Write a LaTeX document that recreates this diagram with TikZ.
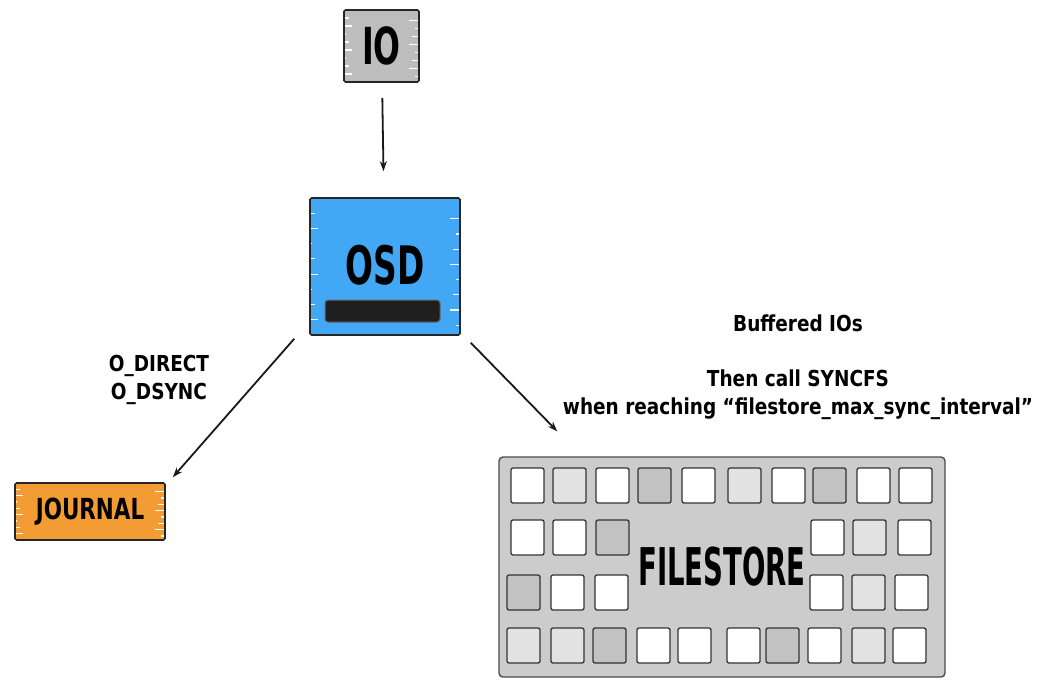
\documentclass[tikz,border=0pt]{standalone}
\usepackage{fontspec}
\usepackage{tikz}
\usetikzlibrary{arrows.meta,calc}
\newfontfamily\handfont[FakeStretch=0.62]{DejaVu Sans}
\newfontfamily\narrowfont[FakeStretch=0.53]{DejaVu Sans}
\newfontfamily\widefont[FakeStretch=0.74]{DejaVu Sans}
\newfontfamily\notefont[FakeStretch=0.84]{DejaVu Sans}
\definecolor{iogray}{HTML}{BDBDBD}
\definecolor{osdblue}{HTML}{42A8F5}
\definecolor{jrnorange}{HTML}{F39C33}
\definecolor{fsgray}{HTML}{CCCCCC}
\definecolor{W}{HTML}{FFFFFF}
\definecolor{L}{HTML}{E2E2E2}
\definecolor{M}{HTML}{C2C2C2}
\begin{document}
\begin{tikzpicture}[x=1pt,y=1pt]
				\tikzstyle{every node}+=[inner sep=0pt]
				\tikzstyle{strokes}=[path picture={
					\foreach \k in {1,...,8} {
						\draw [white,line width=1.2pt] ($(path picture bounding box.north west)!\k/9!(path picture bounding box.south west)$) -- ++({2+mod(\k,3)*3},0);
						\draw [white,line width=1.2pt] ($(path picture bounding box.north east)!\k/9+0.04!(path picture bounding box.south east)$) -- ++({-4-mod(\k+1,3)*3},0);
					}}]
				\tikzstyle{box}=[draw=black!85,line width=1.6pt,rounded corners=1.5pt,strokes]
				\tikzstyle{cell}=[draw=black!80,line width=1.3pt,rounded corners=2pt,minimum width=33pt,minimum height=35pt]
				\tikzstyle{note}=[font=\notefont\bfseries\fontsize{22}{27.5}\selectfont,align=center]
				\tikzstyle{flow}=[black!90,line width=1.8pt,-{Stealth[length=10pt,width=7pt]}]
				\useasboundingbox (0,0) rectangle (1048,-681);
				\node [box,fill=iogray,minimum width=75pt,minimum height=72pt,font=\handfont\bfseries\fontsize{51}{51}\selectfont] (io) at (381.5,-46) {IO};
				\node [box,fill=osdblue,minimum width=150pt,minimum height=137pt,font=\handfont\bfseries\fontsize{53}{53}\selectfont] (osd) at (385,-266.5) {\raisebox{4pt}{OSD}};
				\node [draw=black!60,fill=black!88,line width=1pt,rounded corners=3pt,minimum width=115pt,minimum height=22pt] (osdbar) at (382.5,-311) {};
				\node [box,fill=jrnorange,minimum width=150pt,minimum height=57pt,font=\widefont\bfseries\fontsize{29}{29}\selectfont] (journal) at (90,-511.5) {\raisebox{-6pt}{JOURNAL}};
				\node [draw=black!70,fill=fsgray,line width=1.4pt,rounded corners=4pt,minimum width=446pt,minimum height=220pt,font=\narrowfont\bfseries\fontsize{52}{52}\selectfont] (filestore) at (722,-567) {\raisebox{-3pt}{FILESTORE}};
				\foreach \x/\c in {511/W,553/L,596/W,638/M,682/W,728/L,772/W,813/M,857/W,899/W}
					\node [cell,fill=\c] (cellA\x) at (\x+16.5,-485.5) {};
				\foreach \x/\c in {511/W,553/W,596/M,811/W,853/L,898/W}
					\node [cell,fill=\c] (cellB\x) at (\x+16.5,-537.5) {};
				\foreach \x/\c in {507/M,551/W,595/W,810/W,852/L,895/W}
					\node [cell,fill=\c] (cellC\x) at (\x+16.5,-592.5) {};
				\foreach \x/\c in {507/L,551/L,593/M,637/W,678/W,727/W,766/M,808/W,852/L,893/W}
					\node [cell,fill=\c] (cellD\x) at (\x+16.5,-645.5) {};
				\node [note] (direct) at (159,-380) {O\_DIRECT\\O\_DSYNC};
				\node [note] (buffered) at (798,-367) {Buffered IOs\\ \\Then call SYNCFS\\when reaching “filestore\_max\_sync\_interval”};
				\draw [flow,shorten <=15pt,shorten >=26pt] (io) -- (osd);
				\draw [flow] ([xshift=-15pt,yshift=-3pt]osd.south west) -- ([xshift=7pt,yshift=5pt]journal.north east);
				\draw [flow] ([xshift=10pt,yshift=-7pt]osd.south east) -- ([xshift=59pt,yshift=25pt]filestore.north west);
			\end{tikzpicture}
\end{document}
